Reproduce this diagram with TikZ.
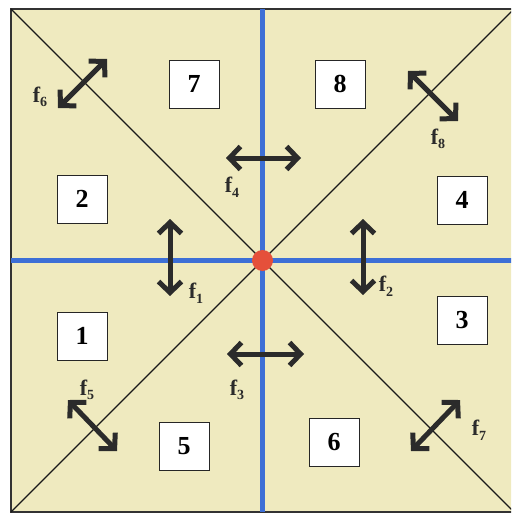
\documentclass[tikz,border=0pt]{standalone}
\usepackage{fontspec}
\setmainfont{Liberation Serif}
\usetikzlibrary{arrows.meta}
\definecolor{bg}{HTML}{EFEABF}
\definecolor{bluel}{HTML}{3D6FD6}
\definecolor{reddot}{HTML}{E5503A}
\definecolor{arr}{HTML}{2B2B2B}
\newcommand{\flabel}[1]{f\raisebox{-0.45ex}{\fontsize{14}{14}\selectfont #1}}
\begin{document}
\begin{tikzpicture}[x=1pt,y=-1pt,
  numbox/.style={draw=black!85, line width=0.8pt, fill=white, minimum width=50pt, minimum height=48pt, inner sep=0pt, font=\fontsize{26}{26}\selectfont\bfseries},
  dbl/.style={draw=arr, line width=5pt, {Straight Barb[length=11pt,width=23pt]}-{Straight Barb[length=11pt,width=23pt]}},
  flab/.style={inner sep=0pt, text=arr, font=\fontsize{22}{22}\selectfont\bfseries},
  ]
\useasboundingbox (0,0) rectangle (511,513);
\clip (0,0) rectangle (511,513);
\fill[white] (0,0) rectangle (511,513);
\coordinate (TL) at (11,9);
\coordinate (TR) at (514,9);
\coordinate (BL) at (11,512);
\coordinate (BR) at (514,512);
\coordinate (C) at (262.5,260.5);
\fill[bg] (TL) rectangle (BR);
\draw[black!80, line width=1.5pt] (TL) rectangle (BR);
\draw[black!90, line width=1.4pt] (TL) -- (BR);
\draw[black!90, line width=1.4pt] (BL) -- (TR);
\draw[bluel, line width=4.5pt] (C|-TL) -- (C|-BL);
\draw[bluel, line width=4.5pt] (C-|TL) -- (C-|TR);
\node[circle, fill=reddot, minimum size=21pt, inner sep=0pt] (dot) at (C) {};
% numbered boxes
\node[numbox] (n7) at (194,84) {7};
\node[numbox] (n8) at (340,84) {8};
\node[numbox] (n2) at (82,199) {2};
\node[numbox] (n4) at (462,200) {4};
\node[numbox] (n1) at (82,336) {1};
\node[numbox] (n3) at (462,320) {3};
\node[numbox] (n5) at (184,446) {5};
\node[numbox] (n6) at (334,442) {6};
% arrow end points
\coordinate (a6a) at (58,108);  \coordinate (a6b) at (107,59);
\coordinate (a4a) at (226,158); \coordinate (a4b) at (301,158);
\coordinate (a8a) at (408,71);  \coordinate (a8b) at (458,121);
\coordinate (a1a) at (170,219); \coordinate (a1b) at (170,296);
\coordinate (a2a) at (363,219); \coordinate (a2b) at (363,295);
\coordinate (a3a) at (227,354); \coordinate (a3b) at (304,354);
\coordinate (a5a) at (68,400);  \coordinate (a5b) at (117,451);
\coordinate (a7a) at (460,400); \coordinate (a7b) at (411,451);
\draw[dbl] (a6a) -- (a6b);
\draw[dbl] (a4a) -- (a4b);
\draw[dbl] (a8a) -- (a8b);
\draw[dbl] (a1a) -- (a1b);
\draw[dbl] (a2a) -- (a2b);
\draw[dbl] (a3a) -- (a3b);
\draw[dbl] (a5a) -- (a5b);
\draw[dbl] (a7a) -- (a7b);
% labels
\node[flab] (l6) at (40,97) {\flabel{6}};
\node[flab] (l4) at (232,187) {\flabel{4}};
\node[flab] (l8) at (438,139) {\flabel{8}};
\node[flab] (l1) at (196,293) {\flabel{1}};
\node[flab] (l2) at (386,286) {\flabel{2}};
\node[flab] (l3) at (237,390) {\flabel{3}};
\node[flab] (l5) at (87,390) {\flabel{5}};
\node[flab] (l7) at (479,430) {\flabel{7}};
\end{tikzpicture}
\end{document}
